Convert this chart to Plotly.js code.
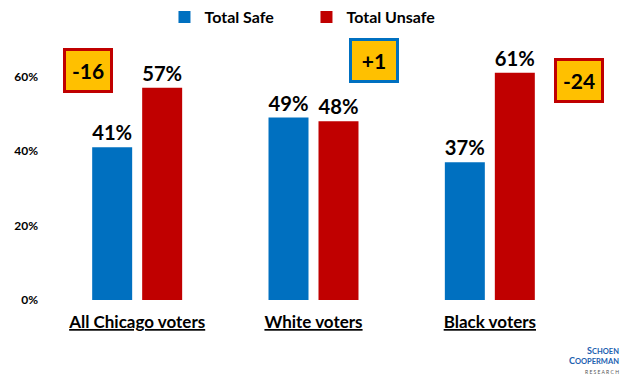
<!DOCTYPE html>
<html><head><meta charset="utf-8">
<script src="https://cdn.plot.ly/plotly-3.0.1.min.js"></script>
<style>html,body{margin:0;padding:0;background:#fff}</style>
</head><body>
<div id="chart" style="width:640px;height:380px"></div>
<script>
const categories = ["All Chicago voters", "White voters", "Black voters"];
const safeValues = [41, 49, 37];
const unsafeValues = [57, 48, 61];
const gapLabels = ["-16", "+1", "-24"];
const gapBorderColors = ["#C00000", "#0070C0", "#C00000"];
const gapY = [61.6, 64.2, 58.9];
const gapShift = [-49, 60, 89];

const FONT = "Lato, 'DejaVu Sans', sans-serif";
const catLabels = categories.map(c => '<span style="text-decoration:underline">' + c + '</span>');

const traces = [
  {type: 'bar', name: 'Total Safe', x: catLabels, y: safeValues, marker: {color: '#0070C0'},
   text: safeValues.map(v => v + '%'), textposition: 'outside', cliponaxis: false,
   textfont: {family: FONT, size: 21, color: '#000', weight: 'bold'}, hoverinfo: 'skip'},
  {type: 'bar', name: 'Total Unsafe', x: catLabels, y: unsafeValues, marker: {color: '#C00000'},
   text: unsafeValues.map(v => v + '%'), textposition: 'outside', cliponaxis: false,
   textfont: {family: FONT, size: 21, color: '#000', weight: 'bold'}, hoverinfo: 'skip'}
];

const annotations = gapLabels.map((t, i) => ({
  xref: 'x', yref: 'y', x: catLabels[i], y: gapY[i], xshift: gapShift[i],
  text: '<b>' + t + '</b>', showarrow: false,
  font: {family: FONT, size: 21, color: '#000'},
  bgcolor: '#FFC000', bordercolor: gapBorderColors[i], borderwidth: 3,
  width: 44, height: 39, borderpad: 0, align: 'center', valign: 'middle'
}));
annotations.push({
  xref: 'paper', yref: 'paper', x: 1.081, y: -0.158, xanchor: 'right', yanchor: 'top',
  text: '<b><span style="font-size:9px">S</span>CHOEN<br><span style="font-size:9px">C</span>OOPERMAN</b><br><span style="font-size:5px;color:#555">R E S E A R C H</span>',
  showarrow: false, align: 'right',
  font: {family: FONT, size: 7.5, color: '#2060B0'}
});

const layout = {
  width: 640, height: 380,
  margin: {l: 49, r: 62, t: 30, b: 80, autoexpand: false},
  paper_bgcolor: '#fff', plot_bgcolor: '#fff',
  barmode: 'group', bargap: 0.433, bargroupgap: 0.2,
  showlegend: true,
  legend: {orientation: 'h', x: 0.257, xanchor: 'left', xref: 'container', y: 1, yref: 'container', yanchor: 'top',
           font: {family: FONT, size: 16, color: '#000', weight: 'bold'}, entrywidth: 97, tracegroupgap: 0},
  xaxis: {range: [-0.5, 2.5], showgrid: false, zeroline: false, showline: false, ticks: '', ticklabelstandoff: 10, automargin: false,
          tickfont: {family: FONT, size: 17, color: '#000', weight: 'bold'}},
  yaxis: {range: [0, 72.5], dtick: 20, tick0: 0, ticksuffix: '%', showgrid: false, zeroline: false,
          showline: false, ticks: '', ticklabelstandoff: 10, automargin: false,
          tickfont: {family: FONT, size: 12, color: '#000', weight: 'bold'}},
  annotations: annotations
};
Plotly.newPlot('chart', traces, layout, {displayModeBar: false, staticPlot: true});
</script>
</body></html>
